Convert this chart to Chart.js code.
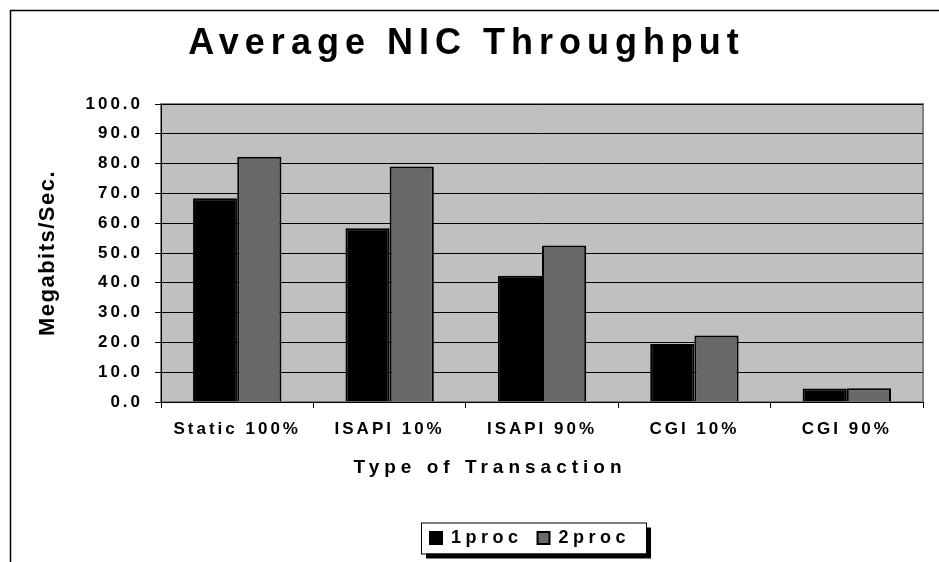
<!DOCTYPE html>
<html>
<head>
<meta charset="utf-8">
<script src="https://cdn.jsdelivr.net/npm/chart.js@4/dist/chart.umd.min.js"></script>
<style>
  body { margin: 0; background: #fff; overflow: hidden; }
  #wrap { position: relative; width: 939px; height: 562px; }
</style>
</head>
<body>
<div id="wrap"><canvas id="nicChart"></canvas></div>
<script>
// ===================
// Data
// ===================

const categories = ['Static 100%', 'ISAPI 10%', 'ISAPI 90%', 'CGI 10%', 'CGI 90%'];
const oneProc = [68.4, 58.3, 42.4, 19.5, 4.5];
const twoProc = [82.3, 79.0, 52.5, 22.3, 4.6];
const seriesNames = ['1proc', '2proc'];

// ===================
// Letter spacing (the old chart spreads its bold text out)
// ===================

const spacing = { 36: 6, 17: 3, 19: 5, 18: 4.5, 22: 1.5 };

const canvas = document.getElementById('nicChart');
const ctx = canvas.getContext('2d');
const proto = CanvasRenderingContext2D.prototype;

function spacingFor(font) {
	const m = /([\d.]+)px/.exec(font);
	return m ? (spacing[+m[1]] || 0) : 0;
}

ctx.fillText = function (t, x, y, w) {
	this.letterSpacing = spacingFor(this.font) + 'px';
	return w === undefined ? proto.fillText.call(this, t, x, y) : proto.fillText.call(this, t, x, y, w);
};
ctx.measureText = function (t) {
	this.letterSpacing = spacingFor(this.font) + 'px';
	return proto.measureText.call(this, t);
};

Chart.defaults.font.family = '"Liberation Sans", Arial, sans-serif';
Chart.defaults.color = '#000';

// ===================
// Frame, plot area, legend box, x title
// ===================

const excelLook = {
	id: 'excelLook',
	afterLayout(chart) {
		// legend sits a little left of the plot centre
		const lg = chart.legend;
		const a = chart.chartArea;
		const d = (a.left + a.right) / 2 - 12 - (lg.left + lg.right) / 2;
		lg.left += d;
		lg.right += d;
	},
	beforeDraw(chart) {
		const c = chart.ctx;
		const a = chart.chartArea;
		c.save();

		// outer frame
		c.strokeStyle = '#000';
		c.lineWidth = 1.5;
		c.beginPath();
		c.moveTo(10.5, chart.height);
		c.lineTo(10.5, 10.5);
		c.lineTo(chart.width, 10.5);
		c.stroke();

		// plot area
		c.fillStyle = '#c0c0c0';
		c.fillRect(a.left, a.top, a.right - a.left, a.bottom - a.top);
		c.strokeStyle = '#808080';
		c.lineWidth = 2;
		c.strokeRect(a.left, a.top, a.right - a.left, a.bottom - a.top);

		// legend box with shadow
		const hb = chart.legend.legendHitBoxes;
		if (hb && hb.length) {
			const last = hb[hb.length - 1];
			const cy = hb[0].top + hb[0].height / 2;
			const x0 = hb[0].left - 9;
			const x1 = last.left + last.width + 16;
			const y0 = cy - 15.5;
			const h = 31;
			c.fillStyle = '#000';
			c.fillRect(x0 + 5, y0 + 5, x1 - x0, h);
			c.fillStyle = '#fff';
			c.fillRect(x0, y0, x1 - x0, h);
			c.strokeStyle = '#000';
			c.lineWidth = 1;
			c.strokeRect(x0 + 0.5, y0 + 0.5, x1 - x0, h);
		}
		c.restore();
	},
	afterDraw(chart) {
		const c = chart.ctx;
		const a = chart.chartArea;
		const x = chart.scales.x;
		c.save();
		c.font = 'bold 19px "Liberation Sans", Arial, sans-serif';
		c.fillStyle = '#000';
		c.textAlign = 'center';
		c.textBaseline = 'middle';
		c.fillText('Type of Transaction', (a.left + a.right) / 2 - 52, x.top + 66);
		c.restore();
	}
};

// ===================
// Chart
// ===================

new Chart(ctx, {
	type: 'bar',
	data: {
		labels: categories,
		datasets: [{
			label: seriesNames[0],
			data: oneProc,
			backgroundColor: '#000',
			borderColor: '#000',
			borderWidth: 2
		}, {
			label: seriesNames[1],
			data: twoProc,
			backgroundColor: '#696969',
			borderColor: '#000',
			borderWidth: 2
		}]
	},
	options: {
		responsive: true,
		maintainAspectRatio: false,
		animation: false,
		datasets: {
			bar: { categoryPercentage: 0.58, barPercentage: 1 }
		},
		layout: {
			padding: { left: 10, right: 16, top: 10, bottom: 5 }
		},
		plugins: {
			title: {
				display: true,
				text: 'Average NIC Throughput',
				color: '#000',
				font: { size: 36, weight: 'bold' },
				padding: { top: 12.4, bottom: 38.4 }
			},
			legend: {
				position: 'bottom',
				labels: {
					boxWidth: 12,
					boxHeight: 12,
					padding: 15,
					color: '#000',
					font: { size: 18, weight: 'bold' }
				}
			},
			tooltip: { enabled: false }
		},
		scales: {
			x: {
				ticks: {
					color: '#000',
					font: { size: 17, weight: 'bold' },
					padding: 11,
					maxRotation: 0,
					autoSkip: false
				},
				grid: { offset: true, drawOnChartArea: false, tickLength: 6, color: '#000' },
				border: { color: '#000', width: 1 },
				afterFit(s) { s.height = 112; }
			},
			y: {
				min: 0,
				max: 100,
				ticks: {
					stepSize: 10,
					color: '#000',
					font: { size: 17, weight: 'bold' },
					padding: 12,
					callback: v => v.toFixed(1)
				},
				grid: { color: '#000', lineWidth: 1, tickLength: 6 },
				border: { color: '#000', width: 1 },
				title: {
					display: true,
					text: 'Megabits/Sec.',
					color: '#000',
					font: { size: 22, weight: 'bold' },
					padding: { top: 24.3, bottom: 12.8 }
				}
			}
		}
	},
	plugins: [excelLook]
});
</script>
</body>
</html>
